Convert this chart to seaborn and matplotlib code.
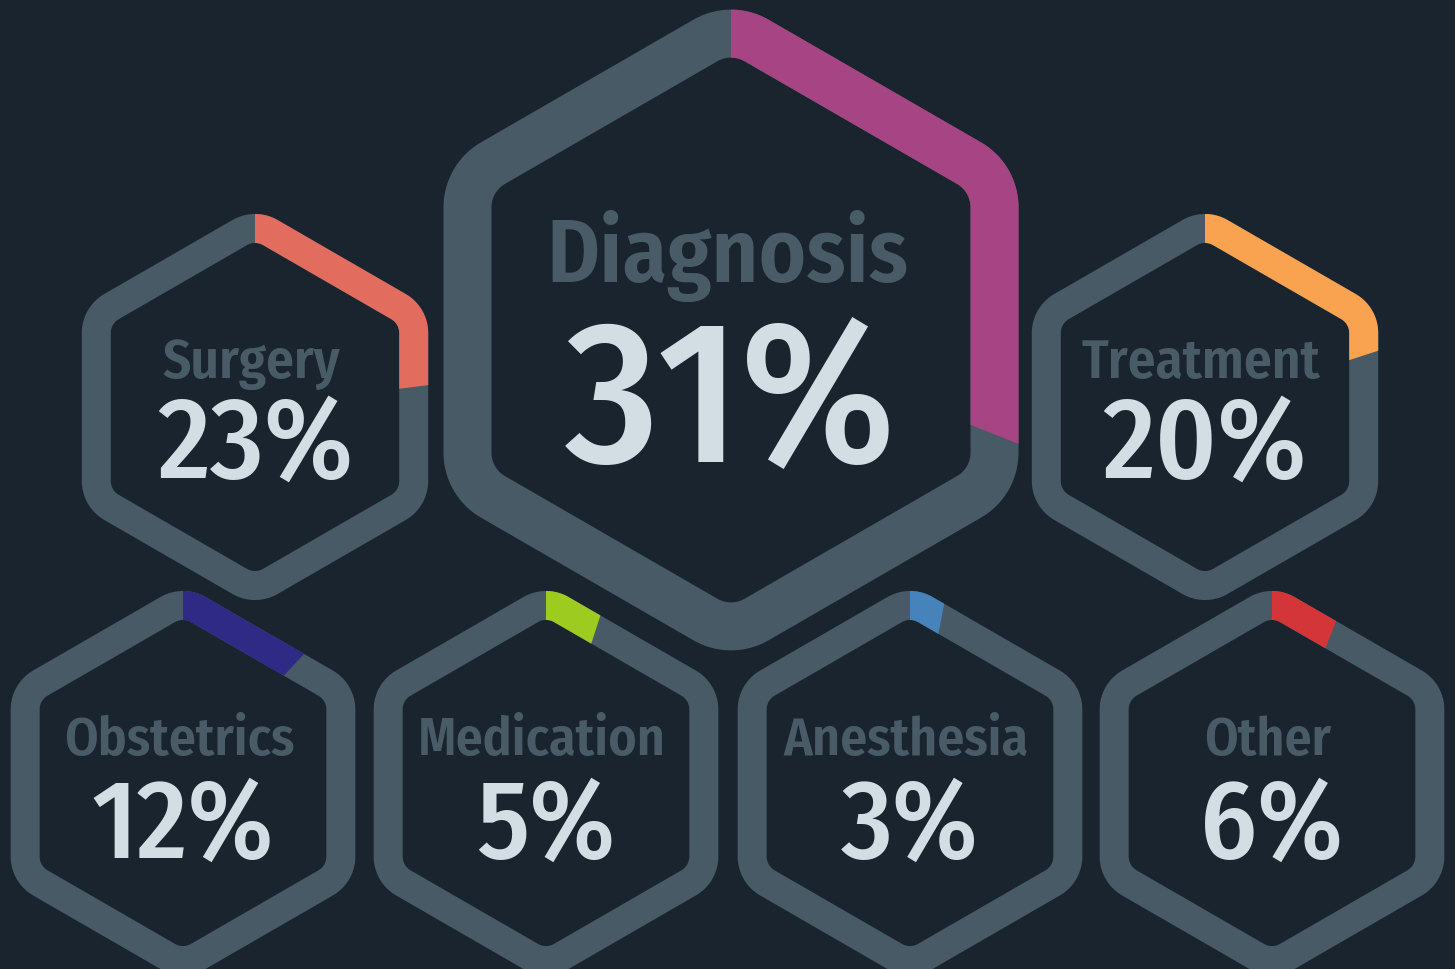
import numpy as np
import seaborn as sns
import matplotlib.pyplot as plt
from matplotlib.path import Path
from matplotlib.patches import PathPatch, Wedge

# values
categories = ["Diagnosis", "Surgery", "Treatment", "Obstetrics", "Medication", "Anesthesia", "Other"]
shares = [31, 23, 20, 12, 5, 3, 6]
share_labels = ["31%", "23%", "20%", "12%", "5%", "3%", "6%"]
palette = ["#a64484", "#e26c5e", "#f9a350", "#2e2a86", "#9ecb1f", "#4683ba", "#d43539"]

BG = "#19242e"
RING = "#485a66"
LABEL = "#4a5b68"
NUMBER = "#d3dde4"

# layout (pixel coords, y measured from the top of the picture)
# cx, cy, R, ring width, corner radius, label cap height, number height, label y, number y
layout = [
    (731, 330, 332, 48, 75, 62, 139, 282, 462),
    (255, 407, 200, 29, 45, 38, 80, 378, 478),
    (1205, 407, 200, 29, 45, 38, 80, 378, 478),
    (183, 783, 199, 29, 45, 37, 77, 755, 858),
    (546, 783, 199, 29, 45, 37, 77, 755, 858),
    (910, 783, 199, 29, 45, 37, 77, 755, 858),
    (1272, 783, 199, 29, 45, 37, 77, 755, 858),
]

W, H = 1455, 969

sns.set_style("dark", {"axes.facecolor": BG, "figure.facecolor": BG})
plt.rcParams['font.family'] = ['Fira Sans Condensed', 'Lato', 'DejaVu Sans']
CAP = 0.689  # cap height of Fira Sans, in em


def rounded_hex(cx, cy, R, r, n=20):
    # clockwise, starting at the top corner
    d = R - r / np.sin(np.pi / 3)
    pts = []
    for k in range(6):
        th = np.pi / 2 - k * np.pi / 3
        a = np.linspace(th + np.pi / 6, th - np.pi / 6, n)
        pts.append(np.c_[cx + d * np.cos(th) + r * np.cos(a),
                         cy + d * np.sin(th) + r * np.sin(a)])
    return np.vstack(pts)


def ring_path(cx, cy, R, w, r):
    outer = rounded_hex(cx, cy, R, r)
    inner = rounded_hex(cx, cy, R - w / np.cos(np.pi / 6), max(r - w, 3))[::-1]
    verts, codes = [], []
    for poly in (outer, inner):
        verts += list(poly) + [poly[0]]
        codes += [Path.MOVETO] + [Path.LINETO] * (len(poly) - 1) + [Path.CLOSEPOLY]
    return Path(np.array(verts), codes)


fig = plt.figure(figsize=(W / 100, H / 100), dpi=100)
ax = fig.add_axes([0, 0, 1, 1])
ax.set_xlim(0, W)
ax.set_ylim(0, H)
ax.set_aspect("equal")
ax.axis("off")

for name, share, txt, col, (cx, py, R, w, r, fs1, fs2, ly, ny) in zip(
        categories, shares, share_labels, palette, layout):
    cy = H - py
    path = ring_path(cx, cy, R, w, r)
    ax.add_patch(PathPatch(path, facecolor=RING, edgecolor="none"))
    part = PathPatch(path, facecolor=col, edgecolor="none")
    ax.add_patch(part)
    clip = Wedge((cx, cy), R * 1.5, 90 - 360 * share / 100, 90, transform=ax.transData)
    part.set_clip_path(clip)
    ax.text(cx - 4, H - ly, name, ha="center", va="baseline", color=LABEL,
            fontsize=fs1 * 0.72 / CAP, fontweight=600)
    ax.text(cx, H - ny, txt, ha="center", va="baseline", color=NUMBER,
            fontsize=fs2 * 0.72 / CAP, fontweight=500)

fig.savefig("out.png", dpi=100, facecolor=BG)
